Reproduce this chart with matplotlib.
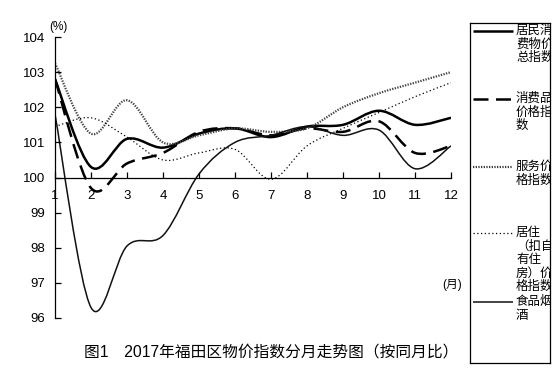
import numpy as np
import matplotlib
matplotlib.use("Agg")
from matplotlib import pyplot as plt
from matplotlib.path import Path
from matplotlib.patches import PathPatch

plt.rcParams['font.family'] = ['Liberation Sans', 'Noto Sans CJK SC', 'DejaVu Sans']

months = [1, 2, 3, 4, 5, 6, 7, 8, 9, 10, 11, 12]
cpi_total = [102.8, 100.3, 101.1, 100.85, 101.25, 101.4, 101.15, 101.45, 101.5, 101.9, 101.5, 101.7]
cpi_goods = [102.8, 99.7, 100.4, 100.7, 101.3, 101.4, 101.2, 101.4, 101.3, 101.6, 100.7, 100.9]
cpi_service = [103.25, 101.25, 102.2, 101.0, 101.2, 101.4, 101.3, 101.4, 102.0, 102.4, 102.7, 103.0]
cpi_housing = [101.45, 101.7, 101.15, 100.5, 100.7, 100.8, 99.95, 100.9, 101.4, 101.85, 102.3, 102.7]
cpi_food = [101.8, 96.3, 98.05, 98.35, 100.1, 101.0, 101.2, 101.45, 101.2, 101.35, 100.25, 100.9]

labels = ['居民消\n费物价\n总指数', '消费品\n价格指\n数', '服务价\n格指数',
          '居住\n（扣自\n有住\n房）价\n格指数', '食品烟\n酒']
yticks = [96, 97, 98, 99, 100, 101, 102, 103, 104]
title = '图1　2017年福田区物价指数分月走势图（按同月比）'

styles = [
    dict(color='black', lw=1.8, ls='-'),
    dict(color='black', lw=1.8, ls=(0, (6, 3))),
    dict(color='#444444', lw=1.6, ls=(0, (0.6, 0.6))),
    dict(color='black', lw=0.9, ls=(0, (1, 2))),
    dict(color='#111111', lw=1.1, ls='-'),
]


def smooth_path(x, y):
    # Catmull-Rom style bezier through the data points (like Excel smoothing)
    p = np.column_stack([x, y]).astype(float)
    verts = [p[0]]
    codes = [Path.MOVETO]
    n = len(p)
    for i in range(n - 1):
        p0 = p[i - 1] if i > 0 else p[i]
        p3 = p[i + 2] if i + 2 < n else p[i + 1]
        c1 = p[i] + (p[i + 1] - p0) / 6.0
        c2 = p[i + 1] - (p3 - p[i]) / 6.0
        verts += [c1, c2, p[i + 1]]
        codes += [Path.CURVE4] * 3
    return Path(verts, codes)


fig = plt.figure(figsize=(5.6, 3.71), dpi=100)
W, H = 560.0, 371.0
ax = fig.add_axes([55 / W, 1 - 318 / H, (451 - 55) / W, (318 - 37) / H])

series = [cpi_total, cpi_goods, cpi_service, cpi_housing, cpi_food]
for vals, st in zip(series, styles):
    patch = PathPatch(smooth_path(months, vals), fill=False, edgecolor=st['color'],
                      lw=st['lw'], linestyle=st['ls'], capstyle='butt')
    ax.add_patch(patch)

ax.set_xlim(1, 12)
ax.set_ylim(96, 104)
ax.set_xticks(months)
ax.set_yticks(yticks)
ax.spines['top'].set_visible(False)
ax.spines['right'].set_visible(False)
ax.spines['bottom'].set_position(('data', 100))
ax.spines['left'].set_linewidth(0.9)
ax.spines['bottom'].set_linewidth(0.9)
ax.tick_params(axis='y', direction='in', length=4, width=0.9, pad=7, labelsize=9.5)
ax.tick_params(axis='x', direction='in', length=4, width=0.9, pad=9, labelsize=9.5)
ax.patch.set_alpha(0)

fig.text(58 / W, 1 - 27 / H, '(%)', fontsize=8.5, ha='center', va='center')
fig.text(452 / W, 1 - 285 / H, '(月)', fontsize=8.5, ha='center', va='center')
fig.text(271 / W, 1 - 352 / H, title, fontsize=11.3, ha='center', va='center')

# legend box
lg = fig.add_axes([470 / W, 1 - 363 / H, 80 / W, 340 / H])
lg.set_xlim(470, 550)
lg.set_ylim(363, 23)
lg.set_xticks([])
lg.set_yticks([])
for s in lg.spines.values():
    s.set_linewidth(0.9)
entry_y = [31, 99, 167, 233, 302]
for lab, yy, st in zip(labels, entry_y, styles):
    lg.plot([473, 513], [yy, yy], color=st['color'], lw=st['lw'], ls=st['ls'],
            solid_capstyle='butt', dash_capstyle='butt')
    lg.text(516, yy - 7, lab, fontsize=9, ha='left', va='top', linespacing=1.05,
            clip_on=True, family=['Noto Sans CJK SC', 'DejaVu Sans'])

fig.savefig('out.png', dpi=100)
